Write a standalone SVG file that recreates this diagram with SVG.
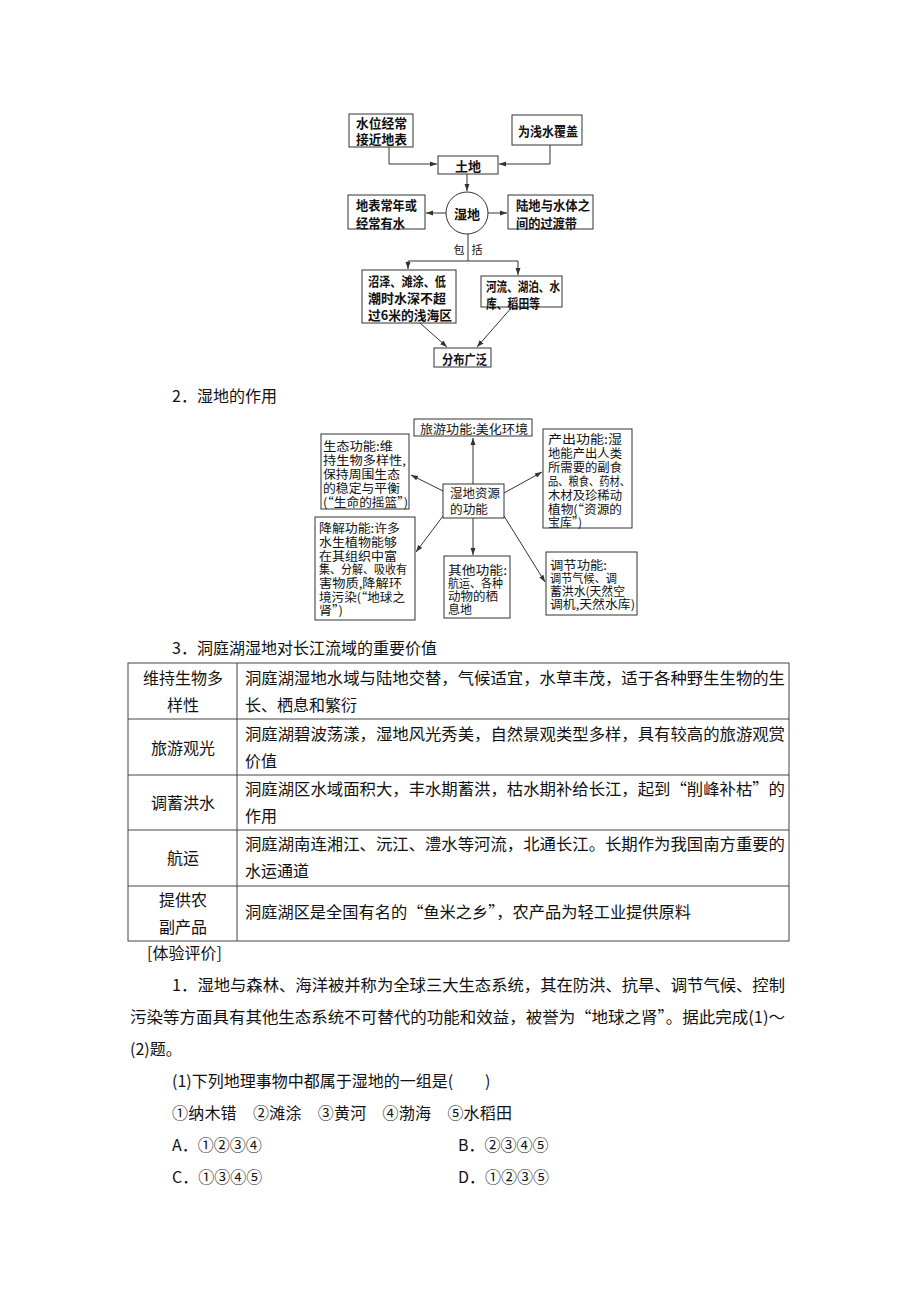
<svg xmlns="http://www.w3.org/2000/svg" width="920" height="1302" viewBox="0 0 920 1302">
<style>
text{font-family:"Noto Sans CJK SC","Liberation Serif",serif;fill:#111;dominant-baseline:central}
.d1{font-size:13px;font-weight:bold}
.d2{font-size:12px}
.body{font-size:16px}
.box{fill:#fff;stroke:#333;stroke-width:1}
.ln{fill:none;stroke:#333;stroke-width:1}
.tb{fill:none;stroke:#444;stroke-width:1}
</style>
<defs>
<marker id="arr" markerUnits="userSpaceOnUse" markerWidth="8" markerHeight="6" refX="7" refY="3" orient="auto">
<path d="M0,0.5 L7,3 L0,5.5 Z" fill="#333"/>
</marker>
</defs>
<rect width="920" height="1302" fill="#fff"/>

<!-- Diagram 1 -->
<g id="connectors1">
<path class="ln" d="M389,147 V164 H437" marker-end="url(#arr)"/>
<path class="ln" d="M550,145 V164 H499" marker-end="url(#arr)"/>
<path class="ln" d="M467,174 V191" marker-end="url(#arr)"/>
<path class="ln" d="M446,213 H426" marker-end="url(#arr)"/>
<path class="ln" d="M488,213 H507" marker-end="url(#arr)"/>
<path class="ln" d="M468,234 V261 M408,261 H518"/>
<path class="ln" d="M408,261 V269" marker-end="url(#arr)"/>
<path class="ln" d="M518,261 V275" marker-end="url(#arr)"/>
<path class="ln" d="M420,323 L447,347" marker-end="url(#arr)"/>
<path class="ln" d="M512,307 L477,347" marker-end="url(#arr)"/>
<text x="459" y="249" text-anchor="middle" style="font-size:11px">包</text>
<text x="477" y="249" text-anchor="middle" style="font-size:11px">括</text>
</g>
<g id="n-shuiwei"><rect class="box" x="349" y="114" width="64" height="33"/>
<text class="d1" x="356" y="122" textLength="51" lengthAdjust="spacingAndGlyphs">水位经常</text>
<text class="d1" x="356" y="138" textLength="51" lengthAdjust="spacingAndGlyphs">接近地表</text></g>
<g id="n-qianshui"><rect class="box" x="512" y="115" width="70" height="30"/>
<text class="d1" x="518" y="130" textLength="60" lengthAdjust="spacingAndGlyphs">为浅水覆盖</text></g>
<g id="n-tudi"><rect class="box" x="438" y="156" width="60" height="18"/>
<text class="d1" x="468" y="165" text-anchor="middle">土地</text></g>
<g id="n-shidi"><circle cx="467" cy="213" r="21" fill="#fff" stroke="#333"/>
<text class="d1" x="467" y="213" text-anchor="middle">湿地</text></g>
<g id="n-dibiao"><rect class="box" x="348" y="195" width="77" height="34"/>
<text class="d1" x="356" y="204" textLength="61" lengthAdjust="spacingAndGlyphs">地表常年或</text>
<text class="d1" x="356" y="222" textLength="49" lengthAdjust="spacingAndGlyphs">经常有水</text></g>
<g id="n-ludi"><rect class="box" x="508" y="195" width="85" height="34"/>
<text class="d1" x="516" y="204" textLength="74" lengthAdjust="spacingAndGlyphs">陆地与水体之</text>
<text class="d1" x="516" y="222" textLength="61" lengthAdjust="spacingAndGlyphs">间的过渡带</text></g>
<g id="n-zhaoze"><rect class="box" x="362" y="270" width="94" height="53"/>
<text class="d1" x="368" y="280" textLength="78" lengthAdjust="spacingAndGlyphs">沼泽、滩涂、低</text>
<text class="d1" x="368" y="297" textLength="78" lengthAdjust="spacingAndGlyphs">潮时水深不超</text>
<text class="d1" x="368" y="314" textLength="84" lengthAdjust="spacingAndGlyphs">过6米的浅海区</text></g>
<g id="n-heliu"><rect class="box" x="481" y="276" width="81" height="31"/>
<text class="d1" x="486" y="285" textLength="74" lengthAdjust="spacingAndGlyphs">河流、湖泊、水</text>
<text class="d1" x="486" y="302" textLength="54" lengthAdjust="spacingAndGlyphs">库、稻田等</text></g>
<g id="n-fenbu"><rect class="box" x="434" y="348" width="57" height="19"/>
<text class="d1" x="442" y="358" textLength="45" lengthAdjust="spacingAndGlyphs">分布广泛</text></g>

<text class="body" x="172" y="395">2．湿地的作用</text>

<!-- Diagram 2 -->
<g id="connectors2">
<path class="ln" d="M473,484 V438" marker-end="url(#arr)"/>
<path class="ln" d="M443,491 L411,475" marker-end="url(#arr)"/>
<path class="ln" d="M504,493 L542,472" marker-end="url(#arr)"/>
<path class="ln" d="M443,516 L416,552" marker-end="url(#arr)"/>
<path class="ln" d="M473,518 V555" marker-end="url(#arr)"/>
<path class="ln" d="M504,516 L545,582" marker-end="url(#arr)"/>
</g>
<g id="n-lvyou"><rect class="box" x="414" y="419" width="118" height="17"/>
<text class="d2" x="420" y="428" textLength="108" lengthAdjust="spacingAndGlyphs">旅游功能:美化环境</text></g>
<g id="n-shengtai"><rect class="box" x="321" y="434" width="88" height="75"/>
<text class="d2" x="323" y="445" textLength="70" lengthAdjust="spacingAndGlyphs">生态功能:维</text>
<text class="d2" x="323" y="459" textLength="83" lengthAdjust="spacingAndGlyphs">持生物多样性,</text>
<text class="d2" x="323" y="473" textLength="77" lengthAdjust="spacingAndGlyphs">保持周围生态</text>
<text class="d2" x="323" y="487" textLength="77" lengthAdjust="spacingAndGlyphs">的稳定与平衡</text>
<text class="d2" x="323" y="501" textLength="85" lengthAdjust="spacingAndGlyphs">(“生命的摇篮”)</text></g>
<g id="n-center"><rect class="box" x="443" y="484" width="61" height="34"/>
<text class="d2" x="450" y="492" textLength="50" lengthAdjust="spacingAndGlyphs">湿地资源</text>
<text class="d2" x="450" y="508" textLength="38" lengthAdjust="spacingAndGlyphs">的功能</text></g>
<g id="n-chanchu"><rect class="box" x="543" y="429" width="89" height="99"/>
<text class="d2" x="548" y="438" textLength="74" lengthAdjust="spacingAndGlyphs">产出功能:湿</text>
<text class="d2" x="548" y="452" textLength="74" lengthAdjust="spacingAndGlyphs">地能产出人类</text>
<text class="d2" x="548" y="466" textLength="74" lengthAdjust="spacingAndGlyphs">所需要的副食</text>
<text class="d2" x="548" y="480" textLength="82" lengthAdjust="spacingAndGlyphs">品、粮食、药材、</text>
<text class="d2" x="548" y="494" textLength="74" lengthAdjust="spacingAndGlyphs">木材及珍稀动</text>
<text class="d2" x="548" y="508" textLength="74" lengthAdjust="spacingAndGlyphs">植物(“资源的</text>
<text class="d2" x="548" y="521" textLength="34" lengthAdjust="spacingAndGlyphs">宝库”)</text></g>
<g id="n-jiangjie"><rect class="box" x="315" y="517" width="100" height="103"/>
<text class="d2" x="319" y="527" textLength="81" lengthAdjust="spacingAndGlyphs">降解功能:许多</text>
<text class="d2" x="319" y="541" textLength="78" lengthAdjust="spacingAndGlyphs">水生植物能够</text>
<text class="d2" x="319" y="555" textLength="78" lengthAdjust="spacingAndGlyphs">在其组织中富</text>
<text class="d2" x="319" y="568" textLength="88" lengthAdjust="spacingAndGlyphs">集、分解、吸收有</text>
<text class="d2" x="319" y="582" textLength="83" lengthAdjust="spacingAndGlyphs">害物质,降解环</text>
<text class="d2" x="319" y="596" textLength="86" lengthAdjust="spacingAndGlyphs">境污染(“地球之</text>
<text class="d2" x="319" y="609" textLength="24" lengthAdjust="spacingAndGlyphs">肾”)</text></g>
<g id="n-qita"><rect class="box" x="444" y="556" width="66" height="62"/>
<text class="d2" x="448" y="569" textLength="59" lengthAdjust="spacingAndGlyphs">其他功能:</text>
<text class="d2" x="448" y="582" textLength="55" lengthAdjust="spacingAndGlyphs">航运、各种</text>
<text class="d2" x="448" y="595" textLength="50" lengthAdjust="spacingAndGlyphs">动物的栖</text>
<text class="d2" x="448" y="608" textLength="24" lengthAdjust="spacingAndGlyphs">息地</text></g>
<g id="n-tiaojie"><rect class="box" x="546" y="552" width="91" height="63"/>
<text class="d2" x="550" y="564" textLength="57" lengthAdjust="spacingAndGlyphs">调节功能:</text>
<text class="d2" x="550" y="577" textLength="67" lengthAdjust="spacingAndGlyphs">调节气候、调</text>
<text class="d2" x="550" y="590" textLength="75" lengthAdjust="spacingAndGlyphs">蓄洪水(天然空</text>
<text class="d2" x="550" y="603" textLength="85" lengthAdjust="spacingAndGlyphs">调机,天然水库)</text></g>

<text class="body" x="172" y="647">3．洞庭湖湿地对长江流域的重要价值</text>

<!-- Table -->
<g id="table">
<rect class="tb" x="128" y="663" width="661" height="278"/>
<path class="tb" d="M237,663 V941 M128,719 H789 M128,775 H789 M128,830 H789 M128,886 H789"/>
<text class="body" x="183" y="677" text-anchor="middle">维持生物多</text>
<text class="body" x="183" y="704" text-anchor="middle">样性</text>
<text class="body" x="183" y="747" text-anchor="middle">旅游观光</text>
<text class="body" x="183" y="802" text-anchor="middle">调蓄洪水</text>
<text class="body" x="183" y="857" text-anchor="middle">航运</text>
<text class="body" x="183" y="899" text-anchor="middle">提供农</text>
<text class="body" x="183" y="926" text-anchor="middle">副产品</text>
<text class="body" x="245" y="677" textLength="540" lengthAdjust="spacingAndGlyphs">洞庭湖湿地水域与陆地交替，气候适宜，水草丰茂，适于各种野生生物的生</text>
<text class="body" x="245" y="704">长、栖息和繁衍</text>
<text class="body" x="245" y="733" textLength="540" lengthAdjust="spacingAndGlyphs">洞庭湖碧波荡漾，湿地风光秀美，自然景观类型多样，具有较高的旅游观赏</text>
<text class="body" x="245" y="760">价值</text>
<text class="body" x="245" y="788" textLength="540" lengthAdjust="spacingAndGlyphs">洞庭湖区水域面积大，丰水期蓄洪，枯水期补给长江，起到“削峰补枯”的</text>
<text class="body" x="245" y="815">作用</text>
<text class="body" x="245" y="843" textLength="540" lengthAdjust="spacingAndGlyphs">洞庭湖南连湘江、沅江、澧水等河流，北通长江。长期作为我国南方重要的</text>
<text class="body" x="245" y="870">水运通道</text>
<text class="body" x="245" y="911" textLength="446" lengthAdjust="spacingAndGlyphs">洞庭湖区是全国有名的“鱼米之乡”，农产品为轻工业提供原料</text>
</g>

<!-- Questions -->
<g id="questions">
<text class="body" x="147" y="952">[体验评价]</text>
<text class="body" x="172" y="984" textLength="613" lengthAdjust="spacingAndGlyphs">1．湿地与森林、海洋被并称为全球三大生态系统，其在防洪、抗旱、调节气候、控制</text>
<text class="body" x="130" y="1016" textLength="655" lengthAdjust="spacingAndGlyphs">污染等方面具有其他生态系统不可替代的功能和效益，被誉为“地球之肾”。据此完成(1)～</text>
<text class="body" x="130" y="1048">(2)题。</text>
<text class="body" x="172" y="1080">(1)下列地理事物中都属于湿地的一组是(　　)</text>
<text class="body" x="172" y="1112" textLength="340" lengthAdjust="spacing">①纳木错　②滩涂　③黄河　④渤海　⑤水稻田</text>
<text class="body" x="172" y="1144">A．①②③④</text>
<text class="body" x="458" y="1144">B．②③④⑤</text>
<text class="body" x="172" y="1176">C．①③④⑤</text>
<text class="body" x="458" y="1176">D．①②③⑤</text>
</g>
</svg>
